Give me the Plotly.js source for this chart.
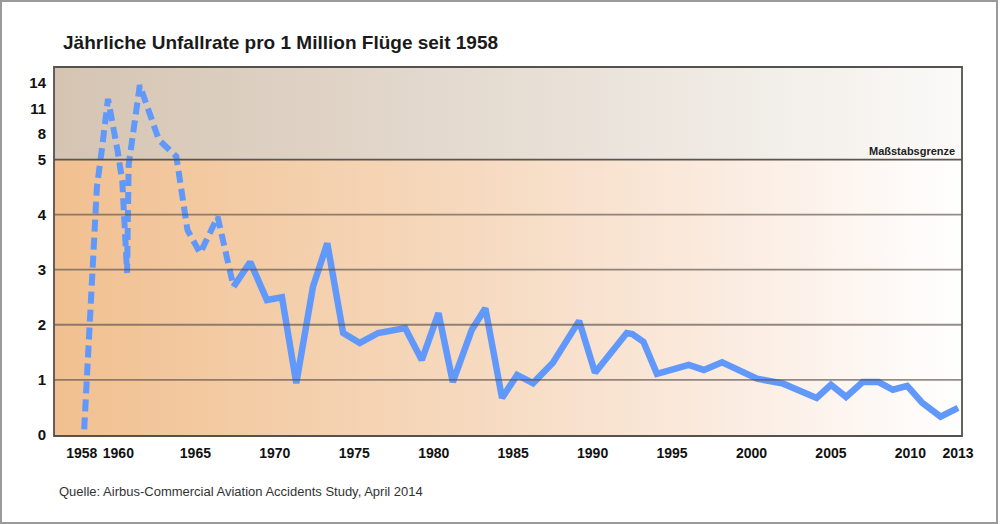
<!DOCTYPE html>
<html>
<head>
<meta charset="utf-8">
<script src="https://cdn.plot.ly/plotly-3.0.1.min.js"></script>
<style>
  html, body { margin: 0; padding: 0; background: #ffffff; }
  #chart { width: 1000px; height: 524px; position: relative; }
  #frame { position: absolute; left: 0px; top: 0px; width: 994px; height: 520px; border: 2px solid #9a9a9a; pointer-events: none; }
</style>
</head>
<body>
<div id="chart"></div>
<div id="frame"></div>
<script>
// ---- data ----
var dashedYears  = [1958.0, 1958.8, 1959.1, 1959.5, 1960.1, 1960.4, 1960.7, 1960.8, 1961.5, 1962.7, 1963.8, 1964.5, 1965.3, 1966.4, 1967.4];
var dashedValues = [0.1,    4.5,    6.0,    12.1,   6.05,   4.6,    2.94,   4.9,    13.7,   7.3,    5.35,   3.72,   3.3,    3.96,   2.69];

var solidYears  = [1967.4, 1968.45, 1969.5, 1970.45, 1971.35, 1972.4, 1973.3, 1974.3, 1975.35, 1976.5, 1978.2, 1979.25, 1980.3, 1981.2, 1982.4, 1983.25, 1984.3, 1985.25, 1986.25, 1987.5, 1989.15, 1990.15, 1992.15, 1992.5, 1993.2, 1994.05, 1996.05, 1997.0, 1998.15, 2000.35, 2002.0, 2004.1, 2005.0, 2005.95, 2007.0, 2008.0, 2008.9, 2009.8, 2010.75, 2011.9, 2013.0];
var solidValues = [2.69,   3.14,    2.45,   2.5,     0.94,    2.69,   3.48,   1.85,   1.67,    1.85,   1.94,   1.36,    2.21,   0.96,   1.91,   2.3,     0.67,   1.09,    0.94,    1.31,   2.07,    1.13,    1.85,    1.83,   1.69,   1.11,    1.27,    1.18,   1.32,    1.02,    0.93,   0.67,   0.91,   0.69,    0.96,   0.96,   0.82,   0.89,   0.58,    0.33,   0.49];

var xTickYears  = [1958, 1960, 1965, 1970, 1975, 1980, 1985, 1990, 1995, 2000, 2005, 2010, 2013];
var yTickValues = [0, 1, 2, 3, 4, 5, 8, 11, 14];

// ---- broken y scale: linear up to 5, compressed above ----
var BREAK = 5, K = 0.155;
function T(v) { return v <= BREAK ? v : BREAK + (v - BREAK) * K; }

var X0 = 1956.1, X1 = 2013.25, Y0 = -0.02, Y1 = 6.68;

// the two crowded first labels are spread apart slightly, as in the original
function labelPos(y) { return y === 1958 ? y - 0.15 : (y === 1960 ? y + 0.15 : y); }

var bgLow = {
  x: [X0, X1, X1, X0, X0], y: [Y0, Y0, BREAK, BREAK, Y0],
  type: 'scatter', mode: 'none', fill: 'toself', hoverinfo: 'skip', showlegend: false,
  fillgradient: { type: 'horizontal', colorscale: [[0, '#f1c090'], [0.45, '#f6d9be'], [0.75, '#fbece1'], [1, '#ffffff']] }
};
var bgHigh = {
  x: [X0, X1, X1, X0, X0], y: [BREAK, BREAK, Y1, Y1, BREAK],
  type: 'scatter', mode: 'none', fill: 'toself', hoverinfo: 'skip', showlegend: false,
  fillgradient: { type: 'horizontal', colorscale: [[0, '#d5c4b2'], [0.5, '#e6ddd3'], [1, '#fbfaf8']] }
};

var lineColor = '#6198fb';
var dashed = {
  x: dashedYears, y: dashedValues.map(T), type: 'scatter', mode: 'lines',
  line: { color: lineColor, width: 6, dash: '12px,6px', shape: 'linear' },
  hoverinfo: 'skip', showlegend: false
};
var solid = {
  x: solidYears, y: solidValues.map(T), type: 'scatter', mode: 'lines',
  line: { color: lineColor, width: 6.5, shape: 'linear' },
  hoverinfo: 'skip', showlegend: false
};

var shapes = [];
[1, 2, 3, 4].forEach(function (g) {
  shapes.push({ type: 'line', xref: 'paper', yref: 'y', x0: 0, x1: 1, y0: g, y1: g, layer: 'above',
    line: { color: 'rgba(90,80,75,0.65)', width: 1.8 } });
});
shapes.push({ type: 'line', xref: 'paper', yref: 'y', x0: 0, x1: 1, y0: BREAK, y1: BREAK, layer: 'above',
  line: { color: '#5a5550', width: 1.8 } });
shapes.push({ type: 'rect', xref: 'paper', yref: 'paper', x0: 0, x1: 1, y0: 0, y1: 1, layer: 'above',
  line: { color: '#55514d', width: 1.8 } });

var tickFont = { family: 'Liberation Sans, Arial, sans-serif', size: 14, color: '#111111', weight: 'bold' };

var layout = {
  width: 1000, height: 524,
  margin: { l: 54, r: 38, t: 67, b: 88 },
  paper_bgcolor: 'rgba(0,0,0,0)', plot_bgcolor: 'rgba(0,0,0,0)',
  title: { text: 'Jährliche Unfallrate pro 1 Million Flüge seit 1958', x: 0, xref: 'paper', xanchor: 'left',
    y: 1, yref: 'container', yanchor: 'top', pad: { t: 36, l: 9 },
    font: { family: 'Liberation Sans, Arial, sans-serif', size: 19, color: '#1a1a1a', weight: 'bold' } },
  xaxis: {
    range: [X0, X1], showgrid: false, zeroline: false, showline: false,
    tickmode: 'array', tickvals: xTickYears.map(labelPos), ticktext: xTickYears.map(String), tickangle: 0,
    ticks: '', tickfont: tickFont, ticklabelstandoff: 7, fixedrange: true
  },
  yaxis: {
    range: [Y0, Y1], showgrid: false, zeroline: false, showline: false,
    tickmode: 'array', tickvals: yTickValues.map(T), ticktext: yTickValues.map(String),
    ticks: '', tickfont: { family: 'Liberation Sans, Arial, sans-serif', size: 15, color: '#111111', weight: 'bold' },
    ticklabelstandoff: 7, fixedrange: true
  },
  shapes: shapes,
  annotations: [
    { text: 'Maßstabsgrenze', xref: 'paper', yref: 'y', x: 0.995, y: BREAK, xanchor: 'right', yanchor: 'bottom', yshift: 1,
      showarrow: false, font: { family: 'Liberation Sans, Arial, sans-serif', size: 11, color: '#222222', weight: 'bold' } },
    { text: 'Quelle: Airbus-Commercial Aviation Accidents Study, April 2014', xref: 'paper', yref: 'paper',
      x: 0, y: 0, xanchor: 'left', yanchor: 'top', xshift: 3, yshift: -46, showarrow: false,
      font: { family: 'Liberation Sans, Arial, sans-serif', size: 13, color: '#333333' } }
  ]
};

Plotly.newPlot('chart', [bgLow, bgHigh, dashed, solid], layout, { displayModeBar: false, staticPlot: true });
</script>
</body>
</html>
